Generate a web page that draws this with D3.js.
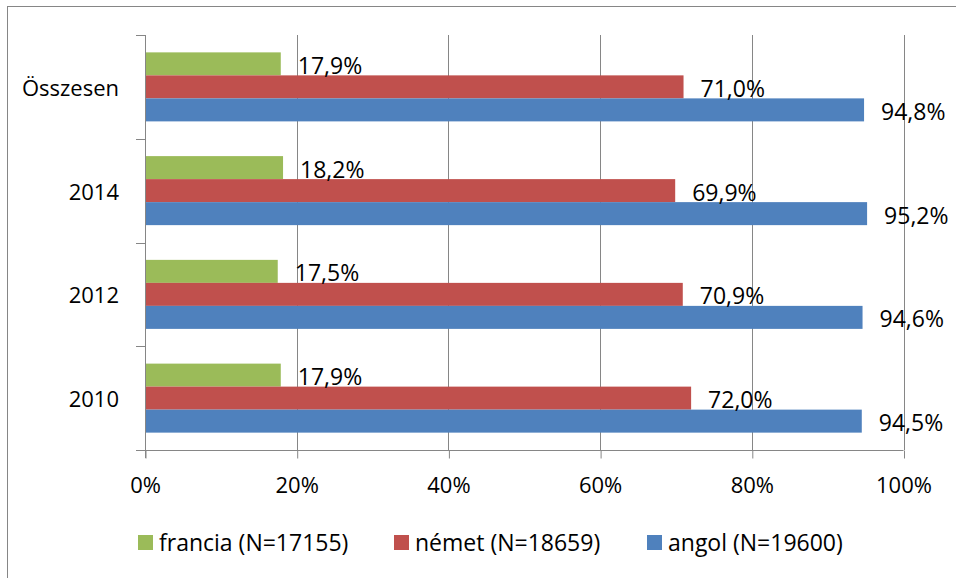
<!DOCTYPE html>
<html>
<head>
<meta charset="utf-8">
<script src="https://cdn.jsdelivr.net/npm/d3@7"></script>
<style>
  body { margin: 0; background: #fff; }
  svg { display: block; font-family: "Open Sans", sans-serif; }
</style>
</head>
<body>
<svg class="chart"></svg>
<script>
// kategoriak fentrol lefele, ahogy a kepen
var categories = ["Összesen", "2014", "2012", "2010"];
var seriesNames = ["francia (N=17155)", "német (N=18659)", "angol (N=19600)"];
var francia = [17.9, 18.2, 17.5, 17.9];
var nemet = [71.0, 69.9, 70.9, 72.0];
var angol = [94.8, 95.2, 94.6, 94.5];
var xTicks = [0, 20, 40, 60, 80, 100];
var colors = ["#9BBB59", "#C0504D", "#4F81BD"];

var Chart = (function(){

  var that = {},
    svg,
    xScale,
    yScale,
    barScale,
    width = 956,
    height = 578,
    plot = {left: 145, right: 903.5, top: 35, bottom: 450},
    gridColor = "#868686";

  function initialize(){
    svg = d3.select(".chart")
            .attr("width", width)
            .attr("height", height);

    // kulso keret (a kep jobbra es lent le van vagva)
    svg.append("rect")
       .attr("x", 7.5).attr("y", 6.5)
       .attr("width", width).attr("height", height)
       .attr("fill", "none")
       .attr("stroke", gridColor);

    makeScales();
    makeGrid();
    makeBars();
    makeAxis();
    makeLegend();
  }

  function makeScales(){
    xScale = d3.scaleLinear()
               .domain([0, 100])
               .range([plot.left, plot.right]);
    yScale = d3.scaleBand()
               .domain(categories)
               .range([plot.top, plot.bottom]);
    barScale = d3.scaleBand()
                 .domain(seriesNames)
                 .range([0, yScale.bandwidth()])
                 .paddingOuter(0.755);
  }

  function makeGrid(){
    svg.append("g")
       .selectAll("line")
       .data(xTicks.filter(function(d){ return d > 0; }))
       .enter().append("line")
       .attr("x1", function(d){ return Math.round(xScale(d)) + 0.5; })
       .attr("x2", function(d){ return Math.round(xScale(d)) + 0.5; })
       .attr("y1", plot.top)
       .attr("y2", plot.bottom)
       .attr("stroke", gridColor);
  }

  function makeBars(){
    var all = [francia, nemet, angol];
    var rows = [];
    categories.forEach(function(c, i){
      seriesNames.forEach(function(s, j){
        rows.push({cat: c, series: s, value: all[j][i], color: colors[j]});
      });
    });

    var g = svg.append("g");

    g.selectAll(".bar")
     .data(rows)
     .enter().append("rect")
     .attr("class", "bar")
     .attr("x", xScale(0))
     .attr("y", function(d){ return yScale(d.cat) + barScale(d.series); })
     .attr("width", function(d){ return xScale(d.value) - xScale(0); })
     .attr("height", barScale.bandwidth())
     .attr("fill", function(d){ return d.color; });

    g.selectAll(".label")
     .data(rows)
     .enter().append("text")
     .attr("class", "label")
     .attr("x", function(d){ return xScale(d.value) + 17; })
     .attr("y", function(d){ return yScale(d.cat) + barScale(d.series) + barScale.bandwidth() / 2 + 1; })
     .attr("dominant-baseline", "central")
     .attr("font-size", 23)
     .attr("fill", "#000")
     .text(function(d){ return d.value.toFixed(1).replace(".", ",") + "%"; });
  }

  function makeAxis(){
    // also tengely
    var xAxis = svg.append("g")
                   .attr("transform", "translate(0," + (plot.bottom + 0.5) + ")")
                   .call(d3.axisBottom(xScale)
                           .tickValues(xTicks)
                           .tickSize(8)
                           .tickPadding(19)
                           .tickFormat(function(d){ return d + "%"; }));
    xAxis.select(".domain").attr("stroke", gridColor).attr("d", "M" + (plot.left - 9) + ",0H" + plot.right);
    xAxis.selectAll(".tick line").attr("stroke", gridColor)
         .attr("transform", function(){ return "translate(0.5,0)"; });
    xAxis.selectAll(".tick text")
         .attr("font-size", 22)
         .attr("font-family", "Open Sans, sans-serif")
         .attr("fill", "#000");

    // bal tengely, kategoriahatarokon jelolokkel
    var yG = svg.append("g");
    yG.append("line")
      .attr("x1", plot.left + 0.5).attr("x2", plot.left + 0.5)
      .attr("y1", plot.top).attr("y2", plot.bottom + 8)
      .attr("stroke", gridColor);

    var bounds = categories.map(function(c){ return yScale(c); }).concat([plot.bottom]);
    yG.selectAll(".ytick")
      .data(bounds)
      .enter().append("line")
      .attr("class", "ytick")
      .attr("x1", plot.left - 9).attr("x2", plot.left)
      .attr("y1", function(d){ return Math.round(d) + 0.5; })
      .attr("y2", function(d){ return Math.round(d) + 0.5; })
      .attr("stroke", gridColor);

    yG.selectAll(".ylabel")
      .data(categories)
      .enter().append("text")
      .attr("class", "ylabel")
      .attr("x", plot.left - 26)
      .attr("y", function(d){ return yScale(d) + yScale.bandwidth() / 2; })
      .attr("text-anchor", "end")
      .attr("dominant-baseline", "central")
      .attr("font-size", 22)
      .text(function(d){ return d; });
  }

  function makeLegend(){
    var legendX = [138, 394, 647];
    var lg = svg.append("g")
                .selectAll("g")
                .data(seriesNames)
                .enter().append("g")
                .attr("transform", function(d, i){ return "translate(" + legendX[i] + ",535)"; });
    lg.append("rect")
      .attr("width", 15).attr("height", 15)
      .attr("fill", function(d, i){ return colors[i]; });
    lg.append("text")
      .attr("x", 21)
      .attr("y", 7)
      .attr("dominant-baseline", "central")
      .attr("font-size", 23)
      .text(function(d){ return d; });
  }

  that.init = initialize;
  return that;

})();

Chart.init();
</script>
</body>
</html>
